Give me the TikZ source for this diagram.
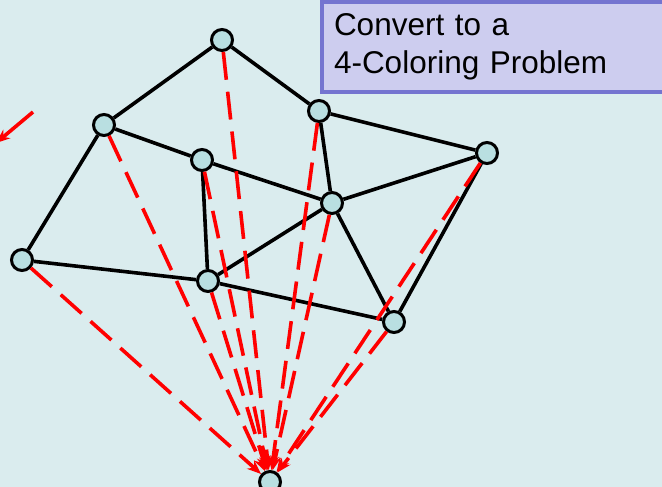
\documentclass[tikz,border=0pt]{standalone}
\usepackage{fontspec}
\setmainfont{Liberation Sans}
\usetikzlibrary{arrows.meta}
\definecolor{bgcyan}{HTML}{DAECEE}
\definecolor{vfill}{HTML}{B9DFE1}
\definecolor{boxfill}{HTML}{CDCDEF}
\definecolor{boxline}{HTML}{7474D0}
\tikzset{
    vertex/.style={circle, draw=black, fill=vfill, line width=3pt, minimum size=21pt, inner sep=0pt},
    edge/.style={line width=3.6pt, black},
    reduce/.style={red, line width=3.6pt, dash pattern=on 28pt off 12pt, -{Stealth[length=14pt, width=11pt]}},
    label box/.style={rectangle, draw=boxline, fill=boxfill, line width=4pt, font=\fontsize{31.5}{38}\selectfont, align=left, anchor=north west, minimum width=344pt, minimum height=90pt, text width=320pt, inner sep=0pt}
}

\begin{document}
\begin{tikzpicture}[x=1pt, y=-1pt]
    \fill[bgcyan] (0,0) rectangle (662,487);
    \useasboundingbox (0,0) rectangle (662,487);
    \clip (0,0) rectangle (662,487);

    \node (title) [label box] at (320,0) {Convert to a\\4-Coloring Problem};

    \node (a) [vertex] at (222,40) {};
    \node (b) [vertex] at (104,125) {};
    \node (c) [vertex] at (319,111) {};
    \node (d) [vertex] at (202,160) {};
    \node (e) [vertex] at (487,153) {};
    \node (f) [vertex] at (332,203) {};
    \node (g) [vertex] at (22,260) {};
    \node (h) [vertex] at (208,281) {};
    \node (i) [vertex] at (394,322) {};
    \node (z) [vertex] at (270,482) {};

    % map adjacency
    \draw [edge] (a) -- (b);
    \draw [edge] (a) -- (c);
    \draw [edge] (b) -- (d);
    \draw [edge] (b) -- (g);
    \draw [edge] (c) -- (e);
    \draw [edge] (c) -- (f);
    \draw [edge] (d) -- (f);
    \draw [edge] (d) -- (h);
    \draw [edge] (e) -- (f);
    \draw [edge] (e) -- (i);
    \draw [edge] (f) -- (h);
    \draw [edge] (f) -- (i);
    \draw [edge] (g) -- (h);
    \draw [edge] (h) -- (i);

    % reduction arrows
    \foreach \v in {a,b,c,d,e,f,g,h,i}
        \draw [reduce] (\v) -- (z);

    \coordinate (from) at (33,112);
    \coordinate (to) at (-4,143);
    \draw [red, line width=3.6pt, -{Stealth[length=14pt, width=11pt]}] (from) -- (to);
\end{tikzpicture}
\end{document}
